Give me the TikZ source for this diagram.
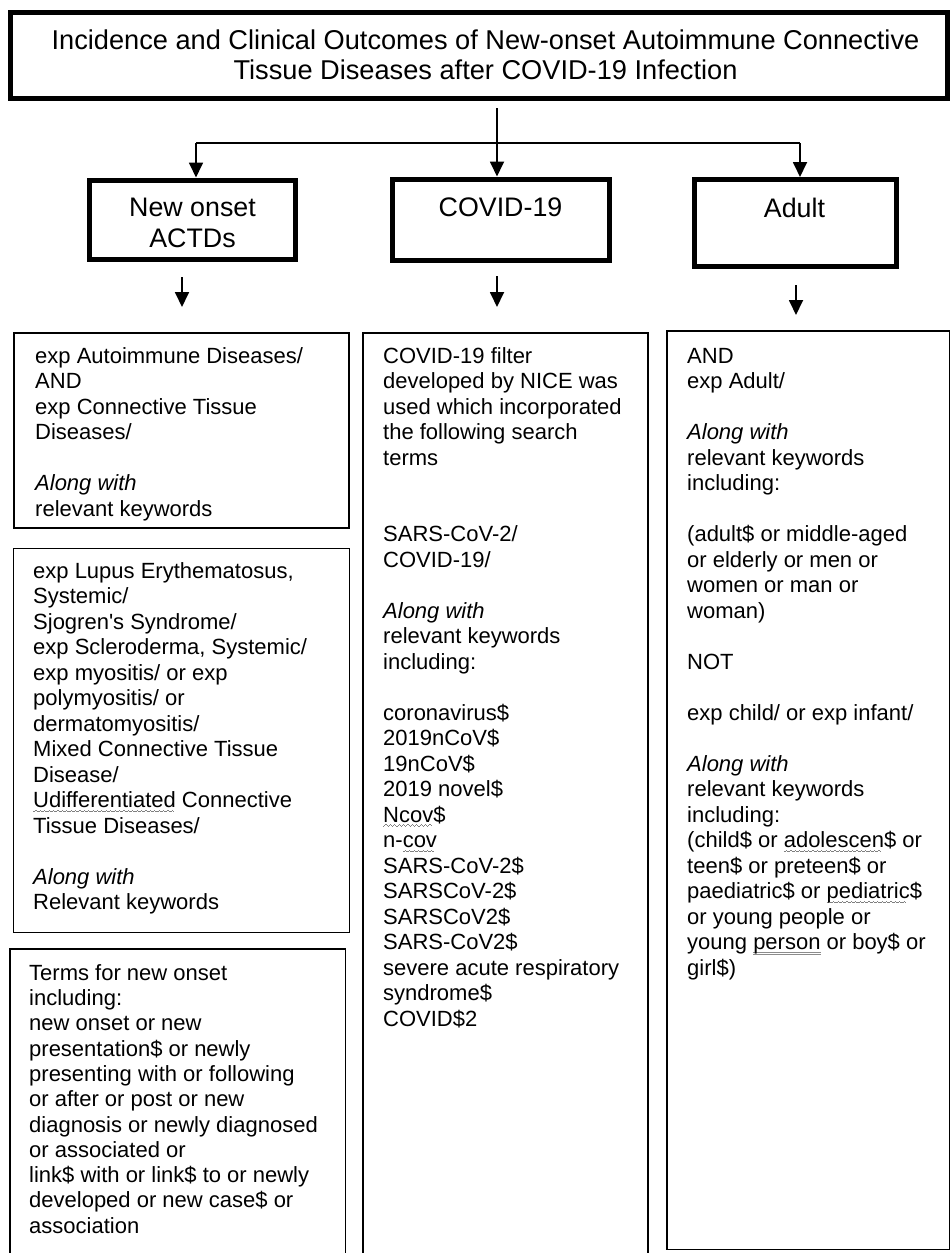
\documentclass[tikz,border=0pt]{standalone}
\usepackage{fontspec}
\setmainfont{Liberation Sans}[Ligatures=TeXOff]
\usetikzlibrary{arrows.meta}
\newlength\wvlen
\newcommand\gwave[1]{\settowidth\wvlen{#1}\rlap{\color{black!50}\leaders\hbox{\rule[-4.4pt]{1.1pt}{0.7pt}\rule[-3.6pt]{1.1pt}{0.7pt}\rule[-2.8pt]{1.1pt}{0.7pt}\rule[-3.6pt]{1.1pt}{0.7pt}}\hskip\wvlen}#1}
\newcommand\gdul[1]{\settowidth\wvlen{#1}\rlap{\color{black!45}\rule[-3pt]{\wvlen}{0.7pt}\hskip-\wvlen\rule[-5pt]{\wvlen}{0.7pt}}#1}
\newcommand\fl[1]{\rule{0pt}{#1}}
\tikzset{
  bigbox/.style={draw, line width=5pt, inner sep=0pt},
  thinbox/.style={draw, line width=1.8pt, inner sep=0pt},
  arr/.style={line width=1.8pt, -{Triangle[length=15pt,width=14pt]}},
  conn/.style={line width=1.8pt},
  body/.style={font=\fontsize{22}{25.5}\selectfont, align=left, anchor=north west, inner sep=0pt},
  head/.style={font=\fontsize{26.8}{31}\selectfont, align=center, inner sep=0pt},
}
\begin{document}
\begin{tikzpicture}[x=1pt,y=-1pt]
\useasboundingbox (0,0) rectangle (951,1253);
\clip (0,0) rectangle (951,1253);
\fill[white] (0,0) rectangle (951,1253);

% title
\node[bigbox, minimum width=937pt, minimum height=85.5pt] (title) at (478.5,55.25) {};
\node[font=\fontsize{27.2}{30.5}\selectfont, align=center, inner sep=0pt, anchor=north] (titletext) at (485.5,28)
  {\fl{21pt}Incidence and Clinical Outcomes of New-onset Autoimmune Connective\\Tissue Diseases after COVID-19 Infection};

% second level
\node[bigbox, minimum width=206.5pt, minimum height=79.5pt] (A) at (192.25,219.75) {};
\node[bigbox, minimum width=217.5pt, minimum height=81.5pt] (B) at (500.75,219.75) {};
\node[bigbox, minimum width=202pt, minimum height=87pt] (C) at (795,223) {};
\node[head, anchor=north] (Atext) at (192.5,196) {\fl{20pt}New onset\\ACTDs};
\node[head, anchor=base] (Btext) at (500.5,216) {COVID-19};
\node[head, anchor=base] (Ctext) at (794.5,217) {Adult};

% connectors from title
\coordinate (ts) at (497,108);
\coordinate (hl) at (196,143);
\coordinate (hr) at (800,143);
\draw[arr] (ts) -- (ts |- B.north);
\draw[conn] (hl) -- (hr);
\draw[arr] (hl) -- (hl |- A.north);
\draw[arr] (hr) -- (hr |- C.north);

% small arrows
\coordinate (a1) at (182,277); \coordinate (a2) at (182,307);
\coordinate (b1) at (497,276); \coordinate (b2) at (497,307);
\coordinate (c1) at (796,285); \coordinate (c2) at (796,315);
\draw[arr] (a1) -- (a2);
\draw[arr] (b1) -- (b2);
\draw[arr] (c1) -- (c2);

% third level boxes
\node[thinbox, minimum width=335pt, minimum height=195pt] (L1) at (181.5,430.5) {};
\node[thinbox, minimum width=336pt, minimum height=384pt] (L2) at (181.5,740.5) {};
\node[thinbox, minimum width=335.5pt, minimum height=321pt] (L3) at (177.75,1109.5) {};
\node[thinbox, minimum width=285pt, minimum height=937pt] (M) at (505.5,801.5) {};
\node[thinbox, minimum width=282.5pt, minimum height=918.5pt] (R) at (808.25,790.25) {};

% texts
\node[body] (L1text) at (35,345) {\fl{18pt}exp Autoimmune Diseases/\\
AND\\
exp Connective Tissue\\
Diseases/\\[25.5pt]
\textit{Along with}\\
relevant keywords};

\node[body] (L2text) at (33,560) {\fl{18pt}exp Lupus Erythematosus,\\
Systemic/\\
Sjogren's Syndrome/\\
exp Scleroderma, Systemic/\\
exp myositis/ or exp\\
polymyositis/ or\\
dermatomyositis/\\
Mixed Connective Tissue\\
Disease/\\
\gwave{Udifferentiated} Connective\\
Tissue Diseases/\\[25.5pt]
\textit{Along with}\\
Relevant keywords};

\node[body, font=\fontsize{22}{25.3}\selectfont] (L3text) at (29,962) {\fl{18pt}Terms for new onset\\
including:\\
new onset or new\\
presentation\$ or newly\\
presenting with or following\\
or after or post or new\\
diagnosis or newly diagnosed\\
or associated or\\
link\$ with or link\$ to or newly\\
developed or new case\$ or\\
association};

\node[body] (Mtext) at (383,345) {\fl{18pt}COVID-19 filter\\
developed by NICE was\\
used which incorporated\\
the following search\\
terms\\[51pt]
SARS-CoV-2/\\
COVID-19/\\[25.5pt]
\textit{Along with}\\
relevant keywords\\
including:\\[25.5pt]
coronavirus\$\\
2019nCoV\$\\
19nCoV\$\\
2019 novel\$\\
\gwave{Ncov}\$\\
n-\gwave{cov}\\
SARS-CoV-2\$\\
SARSCoV-2\$\\
SARSCoV2\$\\
SARS-CoV2\$\\
severe acute respiratory\\
syndrome\$\\
COVID\$2};

\node[body] (Rtext) at (687,345) {\fl{18pt}AND\\
exp Adult/\\[25.5pt]
\textit{Along with}\\
relevant keywords\\
including:\\[25.5pt]
(adult\$ or middle-aged\\
or elderly or men or\\
women or man or\\
woman)\\[25.5pt]
NOT\\[25.5pt]
exp child/ or exp infant/\\[25.5pt]
\textit{Along with}\\
relevant keywords\\
including:\\
(child\$ or \gwave{adolescen}\$ or\\
teen\$ or preteen\$ or\\
paediatric\$ or \gwave{pediatric}\$\\
or young people or\\
young \gdul{person} or boy\$ or\\
girl\$)};
\end{tikzpicture}
\end{document}
